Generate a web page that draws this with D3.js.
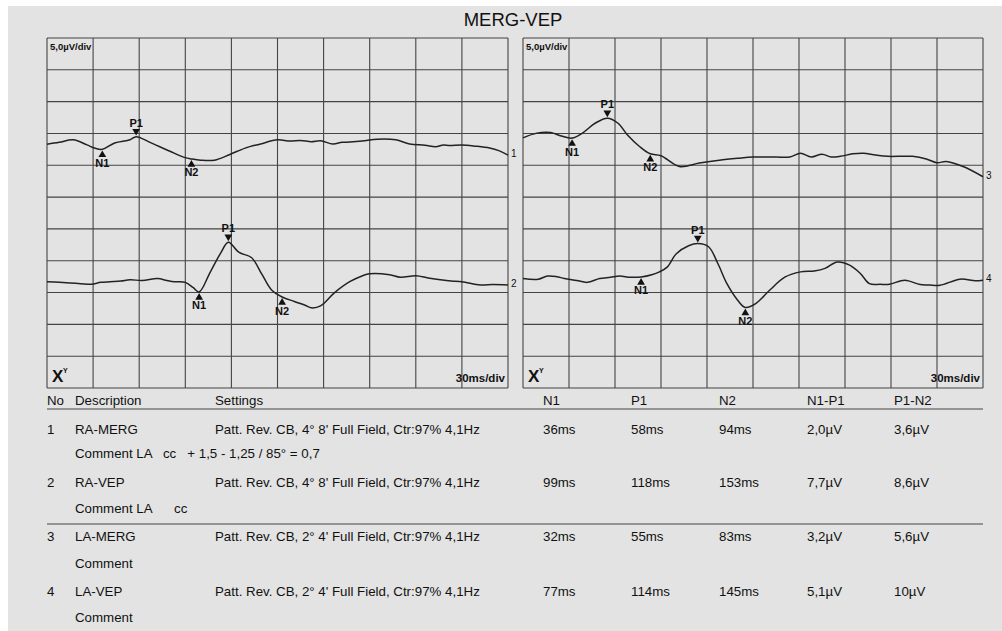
<!DOCTYPE html>
<html>
<head>
<meta charset="utf-8">
<script src="https://cdn.jsdelivr.net/npm/d3@7"></script>
<style>
  body { margin: 0; background: #fff; }
  svg { display: block; font-family: "Liberation Sans", Arial, sans-serif; }
  text { white-space: pre; }
</style>
</head>
<body>
<svg></svg>
<script>
// traces: [ms, µV relative to the trace's own baseline]
const trace1 = [[0,-0.2],[8,0.1],[17,0.5],[26,-0.3],[31,-0.8],[36,-1.0],[44,0],[54,0.5],[58,1.0],[67,0.1],[80,-1.3],[90,-2.3],[94,-2.5],[100,-2.7],[109,-2.7],[119,-1.8],[129,-0.8],[139,-0.15],[150,0.5],[158,0.3],[165,0.4],[172,0.2],[178,0.35],[186,-0.15],[192,0.1],[197,0.15],[205,0.3],[215,0.6],[227,0.5],[236,-0.15],[246,-0.35],[253,-0.6],[258,-0.3],[262,-0.4],[270,-0.3],[279,-0.5],[288,-0.8],[294,-1.2],[300,-1.9]];
const trace2 = [[0,0],[8,-0.1],[15,-0.2],[22,-0.3],[29,-0.4],[35,-0.1],[41,0],[48,0.1],[54,0.3],[62,0.2],[72,0.5],[78,0.2],[83,0],[90,-0.1],[95,-0.9],[99,-1.6],[106,1.4],[113,4.5],[118,6.2],[125,4.6],[133,3.8],[140,1.1],[146,-1.25],[153,-2.4],[161,-3.1],[168,-3.7],[172,-4.1],[178,-3.8],[187,-1.75],[197,0],[205,0.9],[210,1.25],[223,1.1],[230,0.7],[240,0.95],[248,0.6],[256,0.3],[263,0.1],[270,0],[282,-0.5],[290,-0.45],[300,-0.5]];
const trace3 = [[0,0.3],[9,1.05],[18,1.15],[25,0.6],[32,0.27],[39,1.1],[47,2.6],[55,3.4],[62,2.6],[68,0.8],[76,-1.05],[83,-2.2],[90,-2.5],[102,-4.2],[115,-3.65],[128,-3.2],[140,-2.9],[150,-2.7],[165,-2.7],[174,-2.7],[181,-2.1],[188,-2.7],[195,-2.25],[201,-2.7],[207,-2.6],[215,-2.2],[222,-2.1],[230,-2.4],[238,-2.6],[254,-2.6],[263,-3.0],[270,-3.6],[276,-3.4],[287,-4.2],[300,-5.8]];
const trace4 = [[0,0.1],[10,0],[16,0.5],[22,0.4],[27,0.1],[35,-0.2],[42,-0.5],[50,0.1],[57,0.3],[63,0.5],[70,0.3],[77,0.35],[84,0.7],[89,1.15],[94,1.9],[100,4.0],[108,5.25],[114,5.6],[121,5.1],[127,2.5],[133,-0.7],[140,-3.3],[145,-4.45],[152,-3.8],[161,-1.7],[171,0.35],[181,1.15],[190,1.3],[197,1.7],[205,2.7],[213,2.2],[220,0.9],[226,-0.7],[233,-0.8],[239,-0.8],[249,-0.15],[259,-0.85],[265,-0.9],[272,-0.95],[285,0],[295,-0.25],[300,-0.15]];

// table
const rowNo = ["1", "2", "3", "4"];
const descriptions = ["RA-MERG", "RA-VEP", "LA-MERG", "LA-VEP"];
const settings = [
  "Patt. Rev. CB, 4° 8' Full Field, Ctr:97% 4,1Hz",
  "Patt. Rev. CB, 4° 8' Full Field, Ctr:97% 4,1Hz",
  "Patt. Rev. CB, 2° 4' Full Field, Ctr:97% 4,1Hz",
  "Patt. Rev. CB, 2° 4' Full Field, Ctr:97% 4,1Hz"
];
const comments = ["Comment LA   cc   + 1,5 - 1,25 / 85° = 0,7", "Comment LA      cc", "Comment", "Comment"];
const n1Lat = [36, 99, 32, 77];
const p1Lat = [58, 118, 55, 114];
const n2Lat = [94, 153, 83, 145];
const n1p1 = ["2,0µV", "7,7µV", "3,2µV", "5,1µV"];
const p1n2 = ["3,6µV", "8,6µV", "5,6µV", "10µV"];
const headers = ["No", "Description", "Settings", "N1", "P1", "N2", "N1-P1", "P1-N2"];

const width = 1002, height = 631;
const svg = d3.select('svg').attr('width', width).attr('height', height);

svg.append('rect').attr('x', 8).attr('y', 6).attr('width', width - 8).attr('height', height - 6).attr('fill', '#e3e3e3');

svg.append('text').attr('x', 513).attr('y', 26).attr('text-anchor', 'middle')
  .attr('font-size', 18.5).attr('fill', '#111').text('MERG-VEP');

const plotTop = 38, plotBottom = 388;
const panels = [
  { x0: 47, x1: 508, traces: [trace1, trace2], ids: [0, 1], base: [38.5, 16.7] },
  { x0: 523, x1: 983, traces: [trace3, trace4], ids: [2, 3], base: [39.0, 17.1] }
];

const y = d3.scaleLinear().domain([0, 55]).range([plotBottom, plotTop]);

function valueAt(tr, t) {
  for (let i = 1; i < tr.length; i++) {
    if (tr[i][0] >= t) {
      const a = tr[i - 1], b = tr[i];
      return a[1] + (b[1] - a[1]) * (t - a[0]) / (b[0] - a[0]);
    }
  }
  return tr[tr.length - 1][1];
}

const tri = d3.symbol().type(d3.symbolTriangle).size(26);

panels.forEach(function(p) {
  const x = d3.scaleLinear().domain([0, 300]).range([p.x0, p.x1]);
  const g = svg.append('g');

  g.selectAll('.vg').data(d3.range(0, 301, 30)).enter().append('line')
    .attr('x1', d => x(d)).attr('x2', d => x(d)).attr('y1', plotTop).attr('y2', plotBottom)
    .attr('stroke', '#444').attr('stroke-width', 1.1);
  g.selectAll('.hg').data(d3.range(0, 56, 5)).enter().append('line')
    .attr('y1', d => y(d)).attr('y2', d => y(d)).attr('x1', p.x0).attr('x2', p.x1)
    .attr('stroke', '#444').attr('stroke-width', 1.1);

  g.append('text').attr('x', p.x0 + 3).attr('y', plotTop + 12).attr('font-size', 9.5)
    .attr('font-weight', 'bold').attr('fill', '#111').text('5,0µV/div');
  g.append('text').attr('x', p.x1 - 3).attr('y', plotBottom - 6).attr('font-size', 11.5)
    .attr('text-anchor', 'end').attr('font-weight', 'bold').attr('fill', '#111').text('30ms/div');
  g.append('text').attr('x', p.x0 + 5).attr('y', plotBottom - 6).attr('font-size', 17)
    .attr('font-weight', 'bold').attr('fill', '#111').text('X');
  g.append('text').attr('x', p.x0 + 16).attr('y', plotBottom - 15).attr('font-size', 7)
    .attr('font-weight', 'bold').attr('fill', '#111').text('Y');

  p.traces.forEach(function(tr, k) {
    const id = p.ids[k];
    const yy = d => y(p.base[k] + d);
    const line = d3.line().x(d => x(d[0])).y(d => yy(d[1])).curve(d3.curveCatmullRom);
    g.append('path').attr('d', line(tr)).attr('fill', 'none')
      .attr('stroke', '#222').attr('stroke-width', 1.5);

    const last = tr[tr.length - 1];
    g.append('text').attr('x', x(300) + 3).attr('y', yy(last[1]) + 2).attr('font-size', 10)
      .attr('fill', '#111').text(rowNo[id]);

    const marks = [
      { name: 'N1', t: n1Lat[id], up: true },
      { name: 'P1', t: p1Lat[id], up: false },
      { name: 'N2', t: n2Lat[id], up: true }
    ];
    marks.forEach(function(m) {
      const mx = x(m.t), my = yy(valueAt(tr, m.t));
      g.append('path').attr('d', tri)
        .attr('transform', m.up ? `translate(${mx},${my + 5.5})` : `translate(${mx},${my - 5.5}) rotate(180)`)
        .attr('fill', '#111');
      g.append('text').attr('x', mx).attr('y', m.up ? my + 17.5 : my - 10)
        .attr('text-anchor', 'middle').attr('font-size', 11).attr('font-weight', 'bold')
        .attr('fill', '#111').text(m.name);
    });
  });
});

// table
const colX = [47, 75, 215, 543, 631, 719, 807, 894];
const tbl = svg.append('g').attr('font-size', 13.3).attr('fill', '#111');
tbl.selectAll('.hd').data(headers).enter().append('text')
  .attr('x', (d, i) => colX[i]).attr('y', 405).text(d => d);
tbl.append('line').attr('x1', 47).attr('x2', 983).attr('y1', 409).attr('y2', 409).attr('stroke', '#444');
tbl.append('line').attr('x1', 47).attr('x2', 983).attr('y1', 524).attr('y2', 524).attr('stroke', '#444');

const rowY = [434, 487, 541, 596];
const commentY = [458, 513, 568, 622];
rowNo.forEach(function(no, i) {
  const cells = [no, descriptions[i], settings[i], n1Lat[i] + 'ms', p1Lat[i] + 'ms', n2Lat[i] + 'ms', n1p1[i], p1n2[i]];
  tbl.selectAll('.r' + i).data(cells).enter().append('text')
    .attr('x', (d, j) => colX[j]).attr('y', rowY[i]).text(d => d);
  tbl.append('text').attr('x', colX[1]).attr('y', commentY[i]).text(comments[i]);
});
</script>
</body>
</html>
